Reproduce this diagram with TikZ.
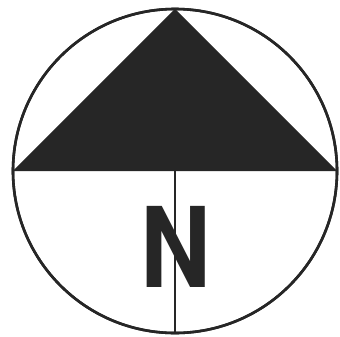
\documentclass[tikz,border=0pt]{standalone}
\usepackage{fontspec}
\newfontfamily\arrowfont{TeX Gyre Heros}
\usepackage{tikz}
\usetikzlibrary{positioning}
\definecolor{inkdark}{HTML}{262626}

\begin{document}
\begin{tikzpicture}[
    x=0.03cm, y=-0.03cm,
    rose/.style={circle, draw=inkdark, line width=2.2pt, minimum size=9.72cm,
                 inner sep=0pt, outer sep=0pt},
    pointer/.style={fill=inkdark},
    axis/.style={draw=inkdark, line width=1.6pt},
    letter/.style={font=\arrowfont\bfseries\fontsize{95}{95}\selectfont,
                   text=inkdark, inner sep=0pt, anchor=base}
]
\useasboundingbox[fill=white] (0,0) rectangle (340,336);
\node[rose] (dial) at (175,171) {};
\fill[pointer] (dial.north) -- (dial.east) -- (dial.west) -- cycle;
\draw[axis] (dial.center) -- (dial.south);
\node[letter] (north) at (175.5,287) {\scalebox{0.88}[1]{N}};
\node[rose] (rim) at (dial.center) {};
\end{tikzpicture}
\end{document}
